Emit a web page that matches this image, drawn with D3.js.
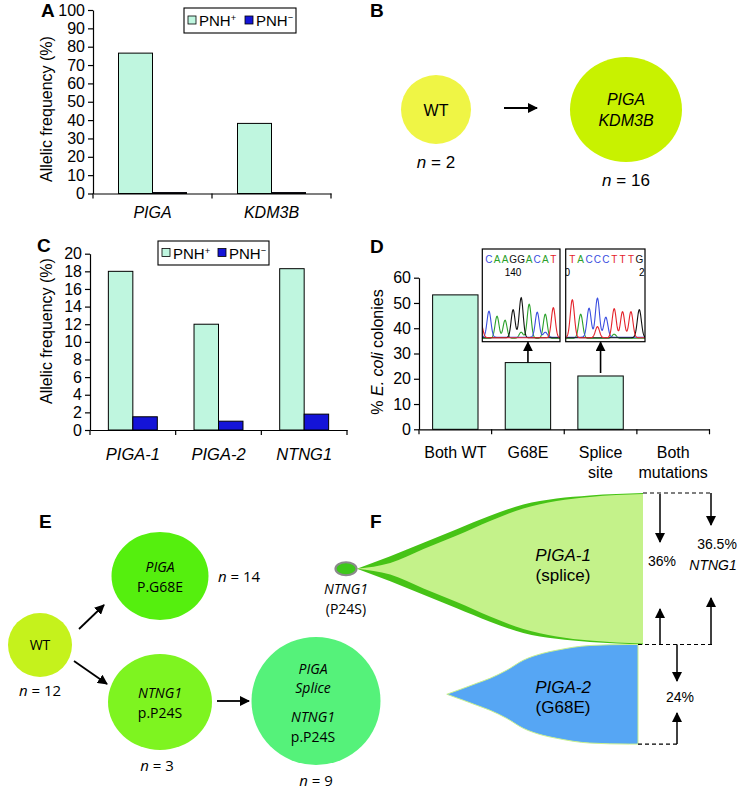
<!DOCTYPE html>
<html>
<head>
<meta charset="utf-8">
<script src="https://cdn.jsdelivr.net/npm/d3@7"></script>
<style>
  body { margin: 0; background: #fff; }
  svg { display: block; font-family: "Liberation Sans", Arial, sans-serif; }
  .axis path, .axis line { stroke: #000; stroke-width: 1.2; }
  .axis text { font-size: 16px; fill: #000; }
</style>
</head>
<body>
<div id="fig"></div>
<script>
// ---- data ----
// A: allelic frequency (%) by gene
const genesA = ["PIGA", "KDM3B"];
const pnhPosA = [76.5, 38.2];
const pnhNegA = [0.5, 0.5];
const ticksA = [0, 10, 20, 30, 40, 50, 60, 70, 80, 90, 100];

// C: allelic frequency (%) by mutation
const genesC = ["PIGA-1", "PIGA-2", "NTNG1"];
const pnhPosC = [18.0, 12.0, 18.3];
const pnhNegC = [1.5, 1.0, 1.8];
const ticksC = [0, 2, 4, 6, 8, 10, 12, 14, 16, 18, 20];

const seriesNames = ["PNH", "PNH"];
const seriesSigns = ["+", "\u2212"];

// D: % E. coli colonies
const coloniesCats = ["Both WT", "G68E", "Splice site", "Both mutations"];
const coloniesPct = [53.2, 26.4, 21.1, 0];
const ticksD = [0, 10, 20, 30, 40, 50, 60];

// D insets: sequencing traces (peak heights in signal units)
const seqG68E = ["C", "A", "A", "G", "G", "A", "C", "A", "T"];
const peaksG68E = [26, 22, 18, 28, 40, 34, 25, 24, 30];
const minorG68E = [["T", -1, 14], ["A", 4, 6], ["C", 7, 5]];
const seqSplice = ["T", "A", "C", "C", "C", "T", "T", "T", "G"];
const peaksSplice = [38, 24, 29, 39, 20, 29, 26, 26, 28];
const minorSplice = [["T", 3, 11], ["A", 5, 4]];

// B: clonal evolution
const cloneB = [["WT"], ["PIGA", "KDM3B"]];
const countB = [2, 16];

// E: clonal evolution
const cloneE = [["WT"], ["PIGA", "P.G68E"], ["NTNG1", "p.P24S"], ["PIGA", "Splice", "NTNG1", "p.P24S"]];
const countE = [12, 14, 3, 9];

// F: clone fractions (%) over time
const fishTimes = [0, 1, 2, 3, 4, 5, 6, 7, 8.6];
const ntng1Frac = [0, 6, 12.5, 19, 25.5, 31, 33.8, 35.3, 36.5];
const piga1Frac = [0, 2.8, 9.5, 16, 23, 29, 32.6, 34.6, 36];
const piga2Times = [2.7, 3.2, 3.6, 4, 4.5, 5, 5.6, 6, 7, 8.2, 8.45];
const piga2Frac = [0, 2.9, 5.3, 7.7, 11.6, 16.4, 19.8, 21.2, 23.5, 24, 24];
const finalPct = { piga1: "36%", ntng1: "36.5%", piga2: "24%" };

// ---- drawing ----
const svg = d3.select("#fig").append("svg").attr("width", 744).attr("height", 800);
const mint = "#bff6df", navy = "#1414d8";

const defs = svg.append("defs");
defs.append("marker").attr("id", "arr").attr("viewBox", "0 0 10 10")
  .attr("refX", 9).attr("refY", 5).attr("markerWidth", 10).attr("markerHeight", 10)
  .attr("markerUnits", "userSpaceOnUse").attr("orient", "auto")
  .append("path").attr("d", "M0,0L10,5L0,10z").attr("fill", "#000");

function panelLetter(t, x, y) {
  svg.append("text").attr("x", x).attr("y", y).attr("font-size", 19)
    .attr("font-weight", "bold").text(t);
}

function arrow(x1, y1, x2, y2, w) {
  svg.append("line").attr("x1", x1).attr("y1", y1).attr("x2", x2).attr("y2", y2)
    .attr("stroke", "#000").attr("stroke-width", w || 1.6).attr("marker-end", "url(#arr)");
}

function barChart(c) {
  const g = svg.append("g");
  const x = d3.scaleBand().domain(c.cats).range([c.x0, c.x1]);
  const y = d3.scaleLinear().domain([0, c.max]).range([c.y0, c.yTop]);
  const xs = d3.scaleBand().domain(d3.range(c.series.length))
    .range([0, x.bandwidth()]).paddingOuter(c.pad);

  c.series.forEach((vals, si) => {
    g.selectAll(null).data(vals.map((v, i) => ({ v, cat: c.cats[i] })).filter(d => d.v > 0))
      .join("rect")
      .attr("x", d => x(d.cat) + xs(si))
      .attr("y", d => y(d.v))
      .attr("width", xs.bandwidth())
      .attr("height", d => y(0) - y(d.v))
      .attr("fill", c.colors[si]).attr("stroke", "#000").attr("stroke-width", 1);
  });

  g.append("g").attr("class", "axis").attr("transform", `translate(${c.x0},0)`)
    .call(d3.axisLeft(y).tickValues(c.ticks).tickSize(5).tickSizeOuter(0).tickPadding(3));

  const xa = g.append("g").attr("class", "axis").attr("transform", `translate(0,${c.y0})`)
    .call(d3.axisBottom(x).tickSize(0).tickSizeOuter(0).tickPadding(c.labelPad));
  xa.selectAll(".tick text").style("font-size", c.labelSize + "px").attr("font-style", c.italic ? "italic" : null)
    .each(function (d) {
      if (!c.wrap) return;
      const words = d.split(" ");
      if (words.length < 2 || d === "Both WT") return;
      const t = d3.select(this).text(null);
      words.forEach((w, i) => t.append("tspan").attr("x", 0).attr("dy", i ? "1.25em" : "0.71em").text(w));
    });

  g.selectAll(null).data(d3.range(c.cats.length + 1)).join("line")
    .attr("x1", i => c.x0 + i * x.step()).attr("x2", i => c.x0 + i * x.step())
    .attr("y1", c.y0).attr("y2", c.y0 + 5).attr("stroke", "#000").attr("stroke-width", 1.2);

  const yt = g.append("text").attr("transform", `translate(${c.titleX},${c.titleY}) rotate(-90)`)
    .attr("text-anchor", "middle").attr("font-size", 16);
  c.title.forEach(([s, it]) => yt.append("tspan").attr("font-style", it ? "italic" : null).text(s));
  return { x, y, xs };
}

function legend(x, y, w, h, fs, gap) {
  const g = svg.append("g").attr("transform", `translate(${x},${y})`);
  g.append("rect").attr("width", w).attr("height", h).attr("fill", "#fff").attr("stroke", "#000").attr("stroke-width", 1.1);
  seriesNames.forEach((s, i) => {
    const gx = 4 + i * gap;
    g.append("rect").attr("x", gx).attr("y", h / 2 - 4.5).attr("width", 8).attr("height", 8)
      .attr("fill", i ? navy : mint).attr("stroke", "#000").attr("stroke-width", 0.8);
    const t = g.append("text").attr("x", gx + 11).attr("y", h / 2 + 5.5).attr("font-size", fs).text(s);
    t.append("tspan").attr("dy", -5).attr("font-size", fs * 0.62).text(seriesSigns[i]);
  });
}

// Panel A
panelLetter("A", 41, 17);
barChart({
  cats: genesA, series: [pnhPosA, pnhNegA], colors: [mint, navy], max: 100, ticks: ticksA,
  x0: 93, x1: 331, y0: 193.5, yTop: 10, pad: 0.75, italic: true, labelPad: 13, labelSize: 16,
  title: [["Allelic frequency (%)"]], titleX: 52, titleY: 109
});
legend(184, 8, 112, 25, 15, 57);

// Panel C
panelLetter("C", 37, 252);
barChart({
  cats: genesC, series: [pnhPosC, pnhNegC], colors: [mint, navy], max: 20, ticks: ticksC,
  x0: 90, x1: 347, y0: 430, yTop: 253.7, pad: 0.75, italic: true, labelPad: 18, labelSize: 16.5,
  title: [["Allelic frequency (%)"]], titleX: 52, titleY: 331
});
legend(158, 241, 111, 24, 15, 56);

// Panel D
panelLetter("D", 370, 253);
const dc = barChart({
  cats: coloniesCats, series: [coloniesPct], colors: [mint], max: 60, ticks: ticksD,
  x0: 419, x1: 709.5, y0: 429.3, yTop: 277.7, pad: 0.3, italic: false, labelPad: 17, labelSize: 16, wrap: true,
  title: [["% "], ["E. coli", true], [" colonies"]], titleX: 383, titleY: 352
});

const baseColor = { A: "#2aa02a", C: "#3a4ee0", G: "#111", T: "#e4222a" };
function trace(bx, seq, peaks, minor, nums) {
  const g = svg.append("g");
  const cid = "clip" + Math.round(bx.x);
  defs.append("clipPath").attr("id", cid).append("rect")
    .attr("x", bx.x).attr("y", bx.y).attr("width", bx.w).attr("height", bx.h);
  const gc = g.append("g").attr("clip-path", `url(#${cid})`);
  const x = d3.scaleLinear().domain(bx.dom).range([bx.x, bx.x + bx.w]);
  const y = d3.scaleLinear().domain([0, 100]).range([bx.y + bx.h - 4, bx.y + bx.h - 104]);
  const all = seq.map((b, i) => [b, i, peaks[i]]).concat(minor);
  Object.keys(baseColor).forEach(b => {
    const pk = all.filter(p => p[0] === b);
    const pts = d3.range(bx.dom[0] - 1, bx.dom[1] + 1, 0.04).map(t =>
      [t, d3.sum(pk, p => p[2] * Math.exp(-((t - p[1]) ** 2) / (2 * 0.06)))]);
    gc.append("path").attr("fill", "none").attr("stroke", baseColor[b]).attr("stroke-width", 1.1)
      .attr("d", d3.line().x(d => x(d[0])).y(d => y(d[1]) + (b === "A" ? 0.5 : b === "C" ? -0.5 : 0))(pts));
  });
  gc.selectAll(null).data(seq).join("text")
    .attr("x", (d, i) => x(i)).attr("y", bx.y + 14).attr("text-anchor", "middle")
    .attr("font-size", 10).attr("fill", d => baseColor[d]).text(d => d);
  nums.forEach(([s, i]) => gc.append("text").attr("x", x(i)).attr("y", bx.y + 27)
    .attr("text-anchor", "middle").attr("font-size", 10).text(s));
  g.append("rect").attr("x", bx.x).attr("y", bx.y).attr("width", bx.w).attr("height", bx.h)
    .attr("fill", "none").attr("stroke", "#000").attr("stroke-width", 1.2);
}
const box1 = { x: 482.3, y: 249, w: 77.7, h: 92.7, dom: [-0.83, 8.83] };
const box2 = { x: 565.7, y: 249, w: 79.3, h: 92.7, dom: [-0.79, 8.68] };
trace(box1, seqG68E, peaksG68E, minorG68E, [["140", 3]]);
trace(box2, seqSplice, peaksSplice, minorSplice, [["0", -0.6], ["2", 8.3]]);
[[1, box1], [2, box2]].forEach(([i, bx]) => {
  const cx = dc.x(coloniesCats[i]) + dc.xs(0) + dc.xs.bandwidth() / 2;
  arrow(cx, dc.y(coloniesPct[i]) - (i === 2 ? 3 : 0), cx, bx.y + bx.h + 0.5, 1.6);
});

// Panel B
panelLetter("B", 370, 17);
const nodesB = [
  { cx: 436, cy: 109.5, rx: 35, ry: 34.5, fill: "#eff545" },
  { cx: 626, cy: 109.5, rx: 56, ry: 52.5, fill: "#c8f200" }
];
nodesB.forEach((n, i) => {
  svg.append("ellipse").attr("cx", n.cx).attr("cy", n.cy).attr("rx", n.rx).attr("ry", n.ry).attr("fill", n.fill);
  const lines = cloneB[i];
  lines.forEach((s, j) => svg.append("text").attr("x", n.cx).attr("y", n.cy + 6 + (j - (lines.length - 1) / 2) * 21)
    .attr("text-anchor", "middle").attr("font-size", 16).attr("font-style", s === "WT" ? null : "italic").text(s));
  const t = svg.append("text").attr("x", n.cx).attr("y", n.cy + n.ry + 24).attr("text-anchor", "middle").attr("font-size", 17);
  t.append("tspan").attr("font-style", "italic").text("n");
  t.append("tspan").text(" = " + countB[i]);
});
arrow(nodesB[0].cx + 68, 108, nodesB[0].cx + 101, 108, 1.8);

// Panel E
panelLetter("E", 39, 528);
const efont = "'Open Sans', 'Noto Sans', sans-serif";
const nodesE = [
  { cx: 40, cy: 645, rx: 32, ry: 32, fill: "#c5f21c", nx: 40, ny: 696, anchor: "middle" },
  { cx: 160, cy: 576, rx: 48.5, ry: 44, fill: "#55ef0e", nx: 218, ny: 582, anchor: "start" },
  { cx: 160, cy: 702, rx: 52, ry: 48, fill: "#7ef420", nx: 157, ny: 771, anchor: "middle" },
  { cx: 316, cy: 701, rx: 64.5, ry: 64, fill: "#55f27a", nx: 316, ny: 786, anchor: "middle" }
];
nodesE.forEach((n, i) => {
  svg.append("ellipse").attr("cx", n.cx).attr("cy", n.cy).attr("rx", n.rx).attr("ry", n.ry).attr("fill", n.fill);
  const lines = cloneE[i];
  const dys = lines.length === 4 ? [-27, -8, 21, 41] : lines.length === 2 ? [-4, 16] : [5];
  lines.forEach((s, j) => svg.append("text").attr("x", n.cx - (lines.length === 4 ? 3 : 0)).attr("y", n.cy + dys[j])
    .attr("text-anchor", "middle").attr("font-family", efont).attr("font-size", 14)
    .attr("font-style", /^(PIGA|NTNG1|Splice)$/.test(s) ? "italic" : null).text(s));
  const t = svg.append("text").attr("x", n.nx).attr("y", n.ny).attr("text-anchor", n.anchor)
    .attr("font-family", efont).attr("font-size", 15);
  t.append("tspan").attr("font-style", "italic").text("n");
  t.append("tspan").text(" = " + countE[i]);
});
arrow(79, 629, 104, 605, 1.8);
arrow(74, 661, 107, 684, 1.8);
arrow(217, 701, 249, 701, 1.8);

// Panel F: fish plot
panelLetter("F", 370, 528);
const fx = d3.scaleLinear().domain([0, 8.6]).range([357, 643]);
const fy = d3.scaleLinear().domain([0, 100]).range([0, 415]);
const fishTop = 493;
const cyGreen = fishTop + fy(d3.max(ntng1Frac)) / 2;
const cyBlue = fishTop + fy(d3.max(ntng1Frac)) + fy(d3.max(piga2Frac)) / 2;
const area = (cy) => d3.area().curve(d3.curveMonotoneX)
  .x(d => fx(d[0])).y0(d => cy - fy(d[1]) / 2).y1(d => cy + fy(d[1]) / 2);
svg.append("path").attr("d", area(cyGreen)(d3.zip(fishTimes, ntng1Frac))).attr("fill", "#46c316");
svg.append("path").attr("d", area(cyGreen)(d3.zip(fishTimes, piga1Frac))).attr("fill", "#c4f28a");
svg.append("path").attr("d", area(cyBlue)(d3.zip(piga2Times, piga2Frac)))
  .attr("fill", "#56a6f4").attr("stroke", "#c8f08e").attr("stroke-width", 1);
svg.append("ellipse").attr("cx", 346).attr("cy", cyGreen).attr("rx", 10.5).attr("ry", 6.5)
  .attr("fill", "#3ec81a").attr("stroke", "#8a8a8a").attr("stroke-width", 2.2);
svg.append("text").attr("x", 346).attr("y", 594).attr("text-anchor", "middle").attr("font-family", efont)
  .attr("font-size", 14).attr("font-style", "italic").text("NTNG1");
svg.append("text").attr("x", 346).attr("y", 614).attr("text-anchor", "middle").attr("font-family", efont)
  .attr("font-size", 14).text("(P24S)");
[["PIGA-1", "(splice)", cyGreen - 8], ["PIGA-2", "(G68E)", cyBlue - 1]].forEach(([a, b, yy]) => {
  svg.append("text").attr("x", 563).attr("y", yy).attr("text-anchor", "middle").attr("font-size", 17)
    .attr("font-style", "italic").text(a);
  svg.append("text").attr("x", 563).attr("y", yy + 20).attr("text-anchor", "middle").attr("font-size", 17).text(b);
});

const yTop = fishTop, yMid = fishTop + fy(d3.max(ntng1Frac)), yBot = yMid + fy(d3.max(piga2Frac));
const dash = (x1, x2, yy) => svg.append("line").attr("x1", x1).attr("x2", x2).attr("y1", yy).attr("y2", yy)
  .attr("stroke", "#000").attr("stroke-width", 1.2).attr("stroke-dasharray", "4,3");
dash(fx(8.6), 712, yTop);
dash(fx(8.45), 712, yMid);
dash(fx(8.45), 677, yBot);
arrow(660, yTop + 1, 660, 542, 1.5);
arrow(660, yMid, 660, 609, 1.5);
arrow(711, yTop, 711, 525, 1.5);
arrow(711, yMid, 711, 598, 1.5);
arrow(677, yMid, 677, 681, 1.5);
arrow(677, yBot, 677, 713, 1.5);
const lab = (t, x, y, it) => svg.append("text").attr("x", x).attr("y", y).attr("text-anchor", "middle")
  .attr("font-size", 14).attr("font-style", it ? "italic" : null).text(t);
lab(finalPct.piga1, 662, 566);
lab(finalPct.ntng1, 717, 549);
lab("NTNG1", 713, 570, true);
lab(finalPct.piga2, 680, 702);
</script>
</body>
</html>
